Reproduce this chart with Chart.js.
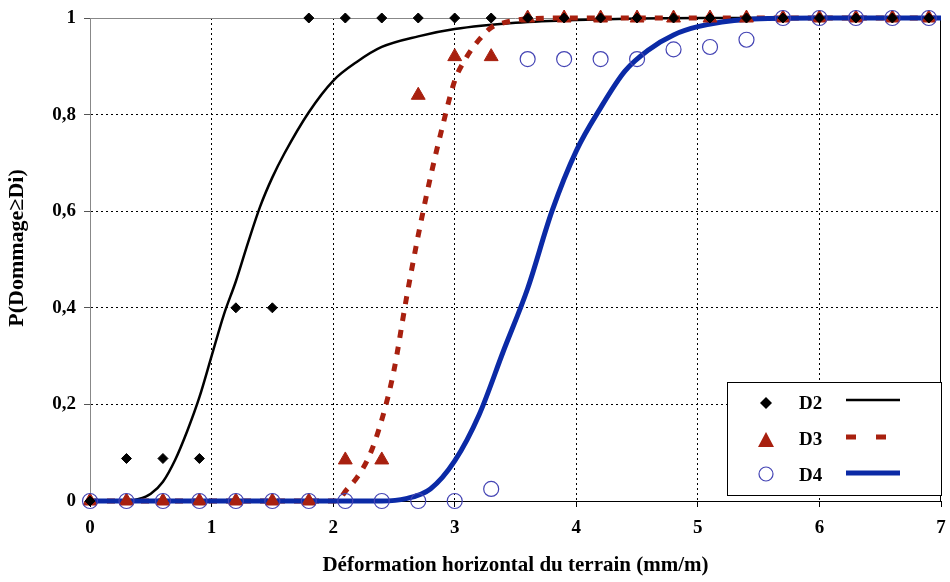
<!DOCTYPE html>
<html>
<head>
<meta charset="utf-8">
<script src="https://cdn.jsdelivr.net/npm/chart.js@4.4.0/dist/chart.umd.min.js"></script>
<style>
  html, body { margin: 0; padding: 0; background: #fff; }
  #wrap { width: 950px; height: 582px; }
</style>
</head>
<body>
<div id="wrap"><canvas id="chart" width="950" height="582"></canvas></div>
<script>
// points observés (x = 0 .. 6.9 pas 0.3)
const xObs = [0,0.3,0.6,0.9,1.2,1.5,1.8,2.1,2.4,2.7,3.0,3.3,3.6,3.9,4.2,4.5,4.8,5.1,5.4,5.7,6.0,6.3,6.6,6.9];
const d2Obs = [0,0.088,0.088,0.088,0.40,0.40,1,1,1,1,1,1,1,1,1,1,1,1,1,1,1,1,1,1];
const d3Obs = [0,0,0,0,0,0,0,0.085,0.085,0.84,0.92,0.92,1,1,1,1,1,1,1,1,1,1,1,1];
const d4Obs = [0,0,0,0,0,0,0,0,0,0,0,0.025,0.915,0.915,0.915,0.915,0.935,0.94,0.955,1,1,1,1,1];

// courbes ajustées
const d2CurveX = [0,0.3,0.4,0.5,0.6,0.7,0.8,0.9,1.0,1.1,1.2,1.3,1.4,1.5,1.6,1.8,2.0,2.2,2.4,2.7,3.0,3.5,4.0,5.0,7.0];
const d2CurveY = [0,0,0.004,0.015,0.04,0.085,0.145,0.215,0.30,0.385,0.455,0.535,0.61,0.67,0.72,0.805,0.87,0.91,0.94,0.962,0.977,0.99,0.996,1,1];
const d3CurveX = [0,2.0,2.05,2.1,2.2,2.3,2.4,2.5,2.6,2.7,2.8,2.9,3.0,3.1,3.2,3.3,3.4,3.6,4.0,7.0];
const d3CurveY = [0,0,0.003,0.02,0.05,0.095,0.168,0.27,0.416,0.55,0.67,0.776,0.87,0.92,0.955,0.98,0.99,0.998,1,1];
const d4CurveX = [0,2.4,2.6,2.8,3.0,3.2,3.4,3.6,3.8,4.0,4.2,4.4,4.6,4.8,5.0,5.4,6.0,7.0];
const d4CurveY = [0,0,0.005,0.025,0.083,0.178,0.31,0.44,0.60,0.725,0.814,0.89,0.935,0.965,0.982,0.997,1,1];

const xTicks = [0,1,2,3,4,5,6,7];
const yTicks = [0,0.2,0.4,0.6,0.8,1];

const serif = "'Liberation Serif', 'DejaVu Serif', serif";
const pts = (xs, ys) => xs.map((x,i)=>({x:x, y:ys[i]}));

const RED = '#a8200f';
const BLUE = '#0b2aa6';
const CIRC = '#4444b4';

// cadre haut/droite, titre Y + légende
const framePlugin = {
  id: 'frame',
  beforeDatasetsDraw(chart) {
    const {ctx, chartArea:a} = chart;
    ctx.save();
    ctx.lineWidth = 1;
    ctx.strokeStyle = '#888';
    ctx.beginPath(); ctx.moveTo(a.left, a.top+0.5); ctx.lineTo(a.right, a.top+0.5); ctx.stroke();
    ctx.strokeStyle = '#000';
    ctx.beginPath(); ctx.moveTo(a.right-0.5, a.top); ctx.lineTo(a.right-0.5, a.bottom); ctx.stroke();
    ctx.restore();
  },
  afterDraw(chart) {
    const ctx = chart.ctx;
    ctx.save();
    // titre axe Y
    ctx.translate(17, 248);
    ctx.rotate(-Math.PI/2);
    ctx.font = 'bold 22px ' + serif;
    ctx.textAlign = 'center';
    ctx.textBaseline = 'middle';
    ctx.fillStyle = '#000';
    ctx.fillText('P(Dommage≥Di)', 0, 0);
    ctx.restore();

    const bx = 727, by = 382, bw = 214, bh = 113;
    ctx.save();
    ctx.fillStyle = '#fff';
    ctx.fillRect(bx, by, bw, bh);
    ctx.strokeStyle = '#000';
    ctx.lineWidth = 1;
    ctx.strokeRect(bx+0.5, by+0.5, bw, bh);
    const rows = [
      {label:'D2', y:404},
      {label:'D3', y:440},
      {label:'D4', y:476}
    ];
    ctx.font = 'bold 19px ' + serif;
    ctx.textBaseline = 'middle';
    ctx.fillStyle = '#000';
    rows.forEach(r => ctx.fillText(r.label, bx+72, r.y));
    // marqueurs
    ctx.fillStyle = '#000';
    ctx.beginPath();
    ctx.moveTo(766, 397); ctx.lineTo(772, 403); ctx.lineTo(766, 409); ctx.lineTo(760, 403); ctx.closePath(); ctx.fill();
    ctx.fillStyle = RED;
    ctx.beginPath();
    ctx.moveTo(766, 432); ctx.lineTo(774, 447); ctx.lineTo(758, 447); ctx.closePath(); ctx.fill();
    ctx.strokeStyle = CIRC; ctx.lineWidth = 1.2;
    ctx.beginPath(); ctx.arc(766, 474, 7, 0, Math.PI*2); ctx.stroke();
    // lignes
    ctx.strokeStyle = '#000'; ctx.lineWidth = 2.5;
    ctx.beginPath(); ctx.moveTo(846, 400); ctx.lineTo(900, 400); ctx.stroke();
    ctx.strokeStyle = RED; ctx.lineWidth = 5;
    ctx.setLineDash([10, 20]);
    ctx.beginPath(); ctx.moveTo(846, 437); ctx.lineTo(900, 437); ctx.stroke();
    ctx.setLineDash([]);
    ctx.strokeStyle = BLUE; ctx.lineWidth = 5;
    ctx.beginPath(); ctx.moveTo(846, 473); ctx.lineTo(900, 473); ctx.stroke();
    ctx.restore();
  }
};

new Chart(document.getElementById('chart'), {
  type: 'scatter',
  data: {
    datasets: [
      { label:'D2', data: pts(xObs, d2Obs), pointStyle:'rectRot', pointRadius:5, pointBackgroundColor:'#000', pointBorderColor:'#000', showLine:false, order:0 },
      { label:'D4', data: pts(xObs, d4Obs), pointStyle:'circle', pointRadius:7.5, pointBackgroundColor:'rgba(0,0,0,0)', pointBorderColor:CIRC, pointBorderWidth:1.2, showLine:false, order:1 },
      { label:'D3', data: pts(xObs, d3Obs), pointStyle:'triangle', pointRadius:8, pointBackgroundColor:RED, pointBorderColor:RED, showLine:false, order:2 },
      { label:'D4 courbe', data: pts(d4CurveX, d4CurveY), showLine:true, pointRadius:0, borderColor:BLUE, borderWidth:5, cubicInterpolationMode:'monotone', order:3 },
      { label:'D3 courbe', data: pts(d3CurveX, d3CurveY), showLine:true, pointRadius:0, borderColor:RED, borderWidth:5, borderDash:[8,9], cubicInterpolationMode:'monotone', order:4 },
      { label:'D2 courbe', data: pts(d2CurveX, d2CurveY), showLine:true, pointRadius:0, borderColor:'#000', borderWidth:2.5, cubicInterpolationMode:'monotone', order:5 }
    ]
  },
  options: {
    responsive: false,
    animation: false,
    clip: false,
    layout: { padding: { top: 18, right: 7, left: 0, bottom: 0 } },
    plugins: { legend: { display:false }, tooltip: { enabled:false } },
    scales: {
      x: {
        type: 'linear', min: 0, max: 7,
        afterFit: s => { s.height = 81; s.paddingLeft = 0; s.paddingRight = 0; },
        afterBuildTicks: s => { s.ticks = xTicks.map(v => ({value:v})); },
        ticks: { color:'#000', font:{ family:serif, size:19, weight:'bold' }, padding: 10 },
        grid: {
          color: c => (c.tick && (c.tick.value === 0 || c.tick.value === 7)) ? 'rgba(0,0,0,0)' : '#000',
          lineWidth: 1,
          tickColor: '#000', tickLength: 6, tickBorderDash: []
        },
        border: { color:'#000', width:1, dash:[2,3] },
        title: { display:true, text:'Déformation horizontal du terrain (mm/m)', color:'#000', font:{ family:serif, size:21, weight:'bold' }, padding:{ top:2 } }
      },
      y: {
        type: 'linear', min: 0, max: 1,
        afterFit: s => { s.width = 90; s.paddingTop = 0; s.paddingBottom = 0; },
        afterBuildTicks: s => { s.ticks = yTicks.map(v => ({value:v})); },
        ticks: { color:'#000', font:{ family:serif, size:19, weight:'bold' }, padding: 8,
          callback: v => String(Math.round(v*10)/10).replace('.', ',') },
        grid: {
          color: c => (c.tick && (c.tick.value === 0 || c.tick.value === 1)) ? 'rgba(0,0,0,0)' : '#000',
          lineWidth: 1,
          tickColor: '#555', tickLength: 6, tickBorderDash: []
        },
        border: { color:'#888', width:1, dash:[2,3] },
        title: { display:false }
      }
    }
  },
  plugins: [framePlugin]
});
</script>
</body>
</html>
